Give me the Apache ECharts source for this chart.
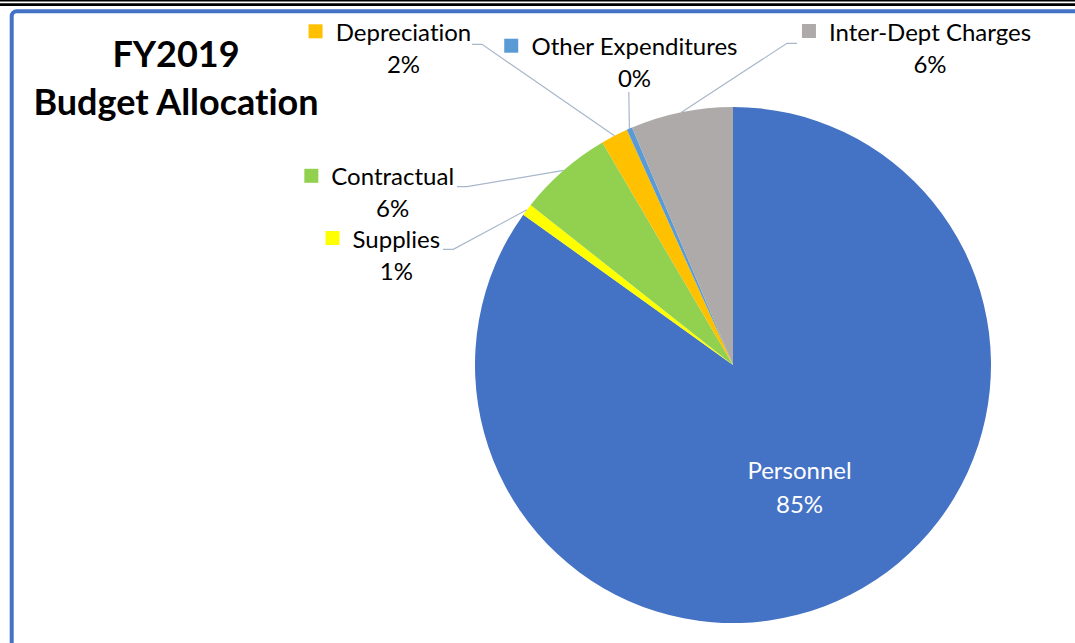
<!DOCTYPE html>
<html>
<head>
<meta charset="utf-8">
<title>FY2019 Budget Allocation</title>
<script src="https://cdn.jsdelivr.net/npm/echarts@6/dist/echarts.min.js"></script>
<style>
  html, body { margin: 0; padding: 0; background: #ffffff; }
  #chart { width: 1075px; height: 643px; }
  /* keep "ti" and similar pairs as separate letters */
  #chart text, #chart tspan { font-variant-ligatures: none !important; font-feature-settings: "liga" 0, "clig" 0 !important; }
</style>
</head>
<body>
<div id="chart"></div>
<script>
// Budget categories, in the order they sweep clockwise from 12 o'clock
const categories = ['Personnel', 'Supplies', 'Contractual', 'Depreciation', 'Other Expenditures', 'Inter-Dept Charges'];
// Share of the FY2019 budget (percent)
const shares = [84.9, 0.75, 5.9, 1.7, 0.35, 6.4];
const sliceColors = ['#4472C4', '#FFFF00', '#92D050', '#FFC000', '#5B9BD5', '#AEAAAA'];

const FONT = 'Lato, "Open Sans", sans-serif';
const FONT_SIZE = 24;
const LINE_H = 32;
const KEY = 14;   // legend key square
const GAP = 13;   // space between key and name

// Where each label sits (centre of its name line) and how its leader line bends
const labelSpots = {
  'Personnel':          { x: 799.5, y: 469,   lineH: 34 },
  'Supplies':           { x: 396.3, y: 238,   elbow: [453.3, 249.3], end: [443, 249.3] },
  'Contractual':        { x: 392.7, y: 175.8, elbow: [467, 186.7], end: [457, 186.7] },
  'Depreciation':       { x: 403.5, y: 31.3,  elbow: [482, 44.3], end: [472, 44.3] },
  'Other Expenditures': { x: 634.5, y: 45.7,  elbow: [628.8, 92], end: [628.8, 92] },
  'Inter-Dept Charges': { x: 930,   y: 31,    elbow: [787, 43.3], end: [797, 43.3] }
};

function pctText(p) { return Math.round(p) + '%'; }

const pieData = categories.map(function (name, i) {
  const item = { name: name, value: shares[i], itemStyle: { color: sliceColors[i] } };
  if (name === 'Personnel') {
    item.label = {
      position: 'inside',
      formatter: function (p) { return '{inName|' + p.name + '}\n{inPct|' + pctText(p.percent) + '}'; }
    };
    item.labelLine = { show: false };
  } else {
    item.label = {
      formatter: function (p) {
        return '{key|}{gap|}{name|' + p.name + '}{pad|}\n{pct|' + pctText(p.percent) + '}';
      },
      rich: {
        key: { width: KEY, height: KEY, backgroundColor: sliceColors[i], verticalAlign: 'middle' }
      }
    };
  }
  return item;
});

const chart = echarts.init(document.getElementById('chart'), null, { renderer: 'svg' });

chart.setOption({
  backgroundColor: '#ffffff',
  animation: false,
  title: {
    text: 'FY2019\nBudget Allocation',
    left: 176,
    top: 29,
    padding: 0,
    textAlign: 'center',
    textVerticalAlign: 'top',
    textStyle: {
      fontFamily: FONT,
      fontWeight: 'bold',
      fontSize: 36,
      lineHeight: 48,
      color: '#000000'
    }
  },
  graphic: [
    // page rules across the top
    { type: 'rect', shape: { x: 0, y: 0, width: 1075, height: 1.5 }, style: { fill: '#000000' }, silent: true },
    { type: 'rect', shape: { x: 0, y: 3.2, width: 1075, height: 2.8 }, style: { fill: '#000000' }, silent: true },
    // blue panel frame (left and top edges)
    {
      type: 'rect',
      shape: { x: 11.7, y: 11.3, width: 3000, height: 3000, r: 5 },
      style: { fill: 'none', stroke: '#4472C4', lineWidth: 4 },
      silent: true
    }
  ],
  series: [{
    type: 'pie',
    center: [733, 365],
    radius: 258,
    startAngle: 90,
    clockwise: true,
    avoidLabelOverlap: false,
    itemStyle: { borderWidth: 0 },
    label: {
      show: true,
      position: 'outside',
      fontFamily: FONT,
      color: '#000000',
      align: 'center',
      rich: {
        gap:    { width: GAP },
        name:   { fontFamily: FONT, fontSize: FONT_SIZE, color: '#000000', lineHeight: LINE_H },
        pad:    { width: KEY + GAP },
        pct:    { fontFamily: FONT, fontSize: FONT_SIZE, color: '#000000', lineHeight: LINE_H, align: 'center' },
        inName: { fontFamily: FONT, fontSize: FONT_SIZE, color: '#ffffff', lineHeight: 34 },
        inPct:  { fontFamily: FONT, fontSize: FONT_SIZE, color: '#ffffff', lineHeight: 34 }
      }
    },
    labelLine: {
      show: true,
      length: 20,
      length2: 10,
      lineStyle: { color: '#A9B7CB', width: 1.2 }
    },
    labelLayout: function (params) {
      const spot = labelSpots[categories[params.dataIndex]];
      const lh = spot.lineH || LINE_H;
      const out = { x: spot.x, y: spot.y - lh / 2, align: 'center', verticalAlign: 'top' };
      const pts = params.labelLinePoints;
      if (pts && spot.end) {
        out.labelLinePoints = [pts[0], spot.elbow, spot.end];
      }
      return out;
    },
    emphasis: { disabled: true },
    data: pieData
  }]
});
</script>
</body>
</html>
